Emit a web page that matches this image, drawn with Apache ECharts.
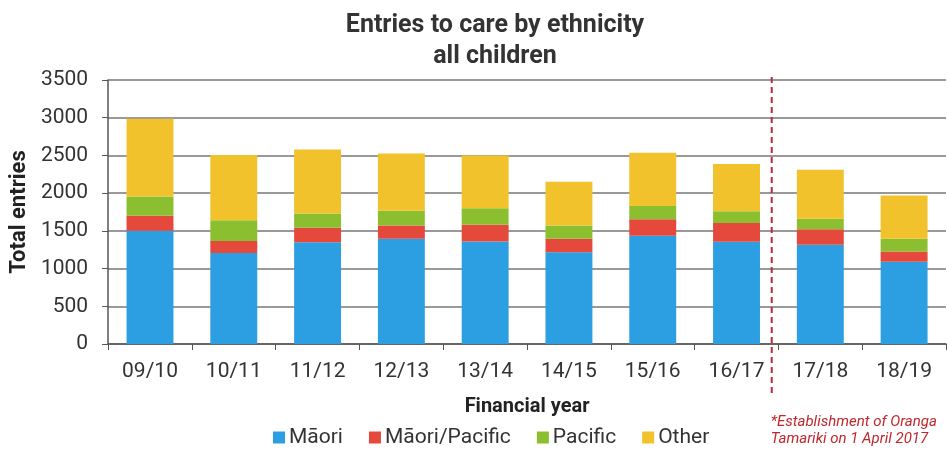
<!DOCTYPE html>
<html>
<head>
<meta charset="utf-8">
<script src="https://cdn.jsdelivr.net/npm/echarts@6/dist/echarts.min.js"></script>
<style>
  html, body { margin: 0; padding: 0; background: #fff; }
  #chart { width: 947px; height: 450px; }
</style>
</head>
<body>
<div id="chart"></div>
<script>
// Financial years on the category axis
const years = ['09/10', '10/11', '11/12', '12/13', '13/14', '14/15', '15/16', '16/17', '17/18', '18/19'];

// Entries to care by ethnicity (stacked)
const maori        = [1500, 1205, 1350, 1395, 1360, 1215, 1435, 1355, 1315, 1090];
const maoriPacific = [ 200,  160,  190,  175,  220,  180,  220,  250,  205,  135];
const pacific      = [ 255,  275,  190,  195,  220,  175,  175,  155,  140,  170];
const other        = [1030,  865,  850,  760,  700,  580,  705,  625,  650,  575];

// Y axis ticks
const yTicks = [0, 500, 1000, 1500, 2000, 2500, 3000, 3500];

// Index of the first year after Oranga Tamariki was established
const establishedIndex = 8;

const seriesNames = ['Māori', 'Māori/Pacific', 'Pacific', 'Other'];
const seriesData = [maori, maoriPacific, pacific, other];
const colors = ['#2c9fe2', '#e4493b', '#8cbf2f', '#f2c22c'];

const FONT = 'Roboto, "Liberation Sans", sans-serif';
const chart = echarts.init(document.getElementById('chart'), null, { renderer: 'canvas' });

const option = {
  animation: false,
  color: colors,
  textStyle: { fontFamily: FONT },
  title: {
    text: 'Entries to care by ethnicity\nall children',
    left: 490,
    top: 5,
    textAlign: 'center',
    textStyle: { fontFamily: FONT, fontSize: 25, fontWeight: 'bold', color: '#333', lineHeight: 31 }
  },
  legend: {
    data: seriesNames,
    left: 268,
    top: 422,
    icon: 'rect',
    itemWidth: 12,
    itemHeight: 12,
    itemGap: 26,
    textStyle: { fontFamily: FONT, fontSize: 21, color: '#333', padding: [0, 0, 0, -1] }
  },
  grid: { left: 108, right: 1, top: 80, bottom: 106, containLabel: false },
  xAxis: {
    type: 'category',
    data: years,
    name: 'Financial year',
    nameLocation: 'middle',
    nameGap: 53,
    nameTextStyle: { fontFamily: FONT, fontSize: 20, fontWeight: 'bold', color: '#222' },
    axisLine: { lineStyle: { color: '#555', width: 1.5 } },
    axisTick: { show: true, length: 6, lineStyle: { color: '#555' } },
    axisLabel: { fontFamily: FONT, fontSize: 21, color: '#333', margin: 17 }
  },
  yAxis: {
    type: 'value',
    min: yTicks[0],
    max: yTicks[yTicks.length - 1],
    interval: yTicks[1] - yTicks[0],
    name: 'Total entries',
    nameLocation: 'middle',
    nameGap: 77,
    nameTextStyle: { fontFamily: FONT, fontSize: 22, fontWeight: 'bold', color: '#222' },
    axisLine: { show: true, lineStyle: { color: '#555', width: 1.5 } },
    axisTick: { show: true, length: 6, lineStyle: { color: '#555' } },
    axisLabel: { fontFamily: FONT, fontSize: 21, color: '#333', margin: 20, formatter: v => String(v) },
    splitLine: { lineStyle: { color: '#777', width: 1.5 } }
  },
  series: seriesNames.map((name, i) => ({
    name: name,
    type: 'bar',
    stack: 'total',
    barWidth: '56%',
    data: seriesData[i]
  }))
};

chart.setOption(option);

// Dashed divider marking the establishment of Oranga Tamariki, plus its note
function drawDivider() {
  const before = chart.convertToPixel({ xAxisIndex: 0 }, years[establishedIndex - 1]);
  const after = chart.convertToPixel({ xAxisIndex: 0 }, years[establishedIndex]);
  const x = (before + after) / 2 - (after - before) * 0.08;
  const yTop = chart.convertToPixel({ yAxisIndex: 0 }, yTicks[yTicks.length - 1]) - 3;
  const yBottom = chart.convertToPixel({ yAxisIndex: 0 }, yTicks[0]) + 49;
  chart.setOption({
    graphic: [
      {
        type: 'line',
        shape: { x1: x, y1: yTop, x2: x, y2: yBottom },
        style: { stroke: '#b8283a', lineWidth: 2, lineDash: [6, 4] },
        z: 10
      },
      {
        type: 'text',
        left: x - 1,
        top: 414,
        style: {
          text: '*Establishment of Oranga\nTamariki on 1 April 2017',
          font: 'italic 15px ' + FONT,
          fill: '#c0272d',
          lineHeight: 17
        }
      }
    ]
  });
}
drawDivider();
</script>
</body>
</html>
